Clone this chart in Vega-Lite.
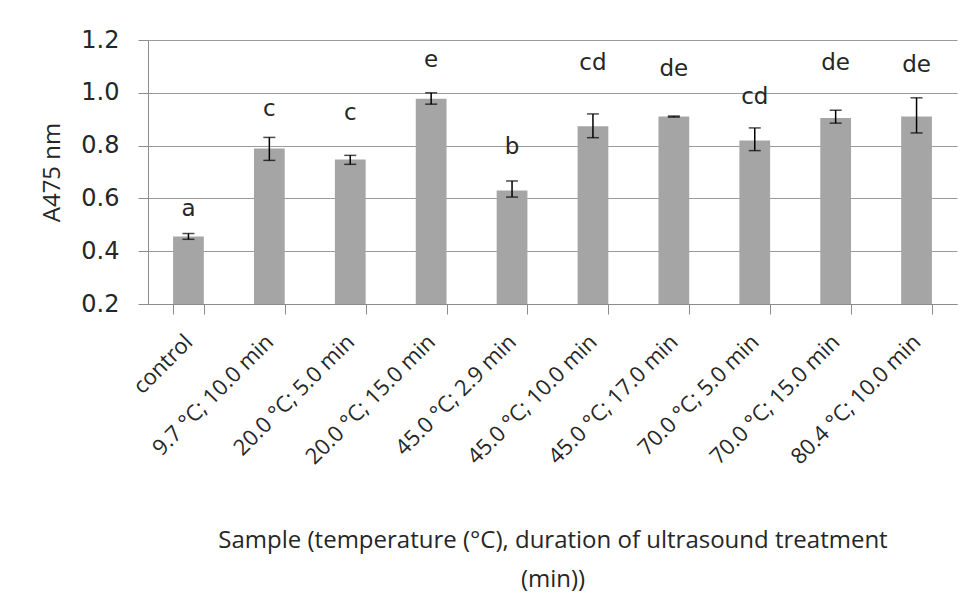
{
  "$schema": "https://vega.github.io/schema/vega-lite/v6.json",
  "width": 809,
  "height": 264,
  "autosize": {"type": "none"},
  "padding": {"left": 148, "top": 40, "right": 18, "bottom": 294},
  "background": "white",
  "config": {"view": {"stroke": null}},
  "data": {"values": [
    {"sample": "control", "mean": 0.456, "lo": 0.445, "hi": 0.467, "letter": "a", "labelY": 0.561},
    {"sample": "9.7 °C; 10.0 min", "mean": 0.789, "lo": 0.744, "hi": 0.831, "letter": "c", "labelY": 0.937},
    {"sample": "20.0 °C; 5.0 min", "mean": 0.747, "lo": 0.729, "hi": 0.763, "letter": "c", "labelY": 0.924},
    {"sample": "20.0 °C; 15.0 min", "mean": 0.977, "lo": 0.957, "hi": 1.0, "letter": "e", "labelY": 1.124},
    {"sample": "45.0 °C; 2.9 min", "mean": 0.63, "lo": 0.605, "hi": 0.666, "letter": "b", "labelY": 0.795},
    {"sample": "45.0 °C; 10.0 min", "mean": 0.873, "lo": 0.83, "hi": 0.92, "letter": "cd", "labelY": 1.111},
    {"sample": "45.0 °C; 17.0 min", "mean": 0.91, "lo": 0.908, "hi": 0.912, "letter": "de", "labelY": 1.092},
    {"sample": "70.0 °C; 5.0 min", "mean": 0.819, "lo": 0.781, "hi": 0.867, "letter": "cd", "labelY": 0.985},
    {"sample": "70.0 °C; 15.0 min", "mean": 0.905, "lo": 0.885, "hi": 0.934, "letter": "de", "labelY": 1.111},
    {"sample": "80.4 °C; 10.0 min", "mean": 0.91, "lo": 0.848, "hi": 0.981, "letter": "de", "labelY": 1.105}
  ]},
  "encoding": {
    "x": {
      "field": "sample", "type": "nominal", "sort": null,
      "scale": {"paddingInner": 0.62, "paddingOuter": 0.31},
      "axis": {
        "title": ["Sample (temperature (°C), duration of ultrasound treatment", "(min))"],
        "titleFont": "Open Sans", "titleFontSize": 24, "titleFontWeight": "normal", "titleColor": "#262626",
        "titleLineHeight": 39, "titlePadding": 61,
        "labelAngle": -45, "labelAlign": "right", "labelBaseline": "middle",
        "labelFont": "Open Sans", "labelFontSize": 22, "labelColor": "#262626",
        "labelPadding": 24, "labelLimit": 300,
        "tickBand": "extent", "tickSize": 10, "tickColor": "#8c8c8c", "domainColor": "#8c8c8c",
        "grid": false
      }
    }
  },
  "layer": [
    {
      "mark": {"type": "bar", "color": "#a5a5a5", "clip": true},
      "encoding": {
        "y": {
          "field": "mean", "type": "quantitative",
          "scale": {"domain": [0.2, 1.2], "zero": false, "nice": false},
          "axis": {
            "title": "A475 nm", "titleFont": "Open Sans", "titleFontSize": 24, "titleFontWeight": "normal",
            "titleColor": "#262626", "titlePadding": 16,
            "values": [0.2, 0.4, 0.6, 0.8, 1.0, 1.2], "format": ".1f",
            "labelFont": "DejaVu Sans", "labelFontSize": 24, "labelColor": "#262626", "labelPadding": 19,
            "tickSize": 10, "tickColor": "#8c8c8c", "domainColor": "#8c8c8c",
            "grid": true, "gridColor": "#9a9a9a", "gridWidth": 1.2
          }
        }
      }
    },
    {
      "mark": {"type": "rule", "color": "#000000", "strokeWidth": 1.5},
      "encoding": {"y": {"field": "lo", "type": "quantitative"}, "y2": {"field": "hi"}}
    },
    {
      "mark": {"type": "tick", "color": "#000000", "thickness": 1.5, "size": 12},
      "encoding": {"y": {"field": "lo", "type": "quantitative"}}
    },
    {
      "mark": {"type": "tick", "color": "#000000", "thickness": 1.5, "size": 12},
      "encoding": {"y": {"field": "hi", "type": "quantitative"}}
    },
    {
      "mark": {"type": "text", "font": "DejaVu Sans", "fontSize": 23, "color": "#262626", "baseline": "middle"},
      "encoding": {"y": {"field": "labelY", "type": "quantitative"}, "text": {"field": "letter"}}
    }
  ]
}
